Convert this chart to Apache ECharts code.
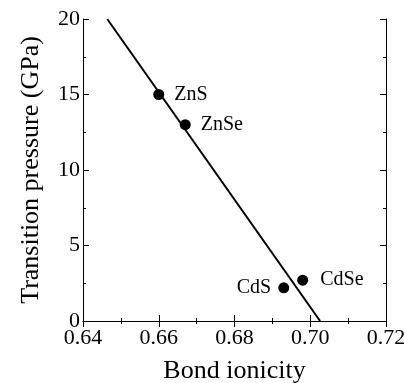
<!DOCTYPE html>
<html><head><meta charset="utf-8">
<script src="https://cdn.jsdelivr.net/npm/echarts@6/dist/echarts.min.js"></script>
<style>html,body{margin:0;padding:0;background:#fff}#c{width:404px;height:383px}</style>
</head><body><div id="c"></div>
<script>
const compounds = ['ZnS', 'ZnSe', 'CdS', 'CdSe'];
const ionicity = [0.660, 0.667, 0.693, 0.698];
const pressure = [15.0, 13.0, 2.2, 2.7];
const labelSide = ['right', 'right', 'left', 'right'];
const labelGap = [10, 10, 7, 12];
const fitLine = [[0.6464, 20], [0.7026, 0]];
const xTicks = [0.64, 0.66, 0.68, 0.70, 0.72];
const yTicks = [0, 5, 10, 15, 20];

const font = 'Liberation Serif';
const chart = echarts.init(document.getElementById('c'), null, {renderer: 'canvas'});
const axisLine = {lineStyle: {color: '#000', width: 1}};
const tick = {inside: true, length: 6, lineStyle: {color: '#000', width: 1}};
const minor = {show: true, splitNumber: 2, length: 3, lineStyle: {color: '#000', width: 1}};
chart.setOption({
  animation: false,
  grid: {left: 83, right: 18, top: 19, bottom: 62, containLabel: false, outerBoundsMode: 'none'},
  xAxis: [{
    type: 'value', min: 0.64, max: 0.72, interval: 0.02,
    name: 'Bond ionicity', nameLocation: 'middle', nameGap: 37,
    nameTextStyle: {fontFamily: font, fontSize: 26, color: '#000'},
    axisLine, axisTick: tick, minorTick: minor, splitLine: {show: false},
    axisLabel: {fontFamily: font, fontSize: 22, color: '#000', margin: 6,
      formatter: v => xTicks.find(t => Math.abs(t - v) < 1e-9).toFixed(2)}
  }, {
    type: 'value', position: 'top', min: 0.64, max: 0.72, interval: 0.02,
    axisLine, axisTick: tick, minorTick: minor, splitLine: {show: false}, axisLabel: {show: false}
  }],
  yAxis: [{
    type: 'value', min: 0, max: 20, interval: 5,
    name: 'Transition pressure (GPa)', nameLocation: 'middle', nameGap: 39,
    nameTextStyle: {fontFamily: font, fontSize: 26, color: '#000'},
    axisLine, axisTick: tick, minorTick: minor, splitLine: {show: false},
    axisLabel: {fontFamily: font, fontSize: 22, color: '#000', margin: 3,
      formatter: v => String(yTicks.find(t => Math.abs(t - v) < 1e-9))}
  }, {
    type: 'value', position: 'right', min: 0, max: 20, interval: 5,
    axisLine, axisTick: tick, minorTick: minor, splitLine: {show: false}, axisLabel: {show: false}
  }],
  series: [{
    type: 'line', data: fitLine, symbol: 'none', lineStyle: {color: '#000', width: 2}, silent: true
  }, {
    type: 'scatter', symbol: 'circle', symbolSize: 11,
    itemStyle: {color: '#000', opacity: 1},
    data: compounds.map((n, i) => ({
      value: [ionicity[i], pressure[i]], name: n,
      label: {show: true, position: labelSide[i], distance: labelGap[i], formatter: n,
        fontFamily: font, fontSize: 20, color: '#000'}
    }))
  }]
});
</script></body></html>
